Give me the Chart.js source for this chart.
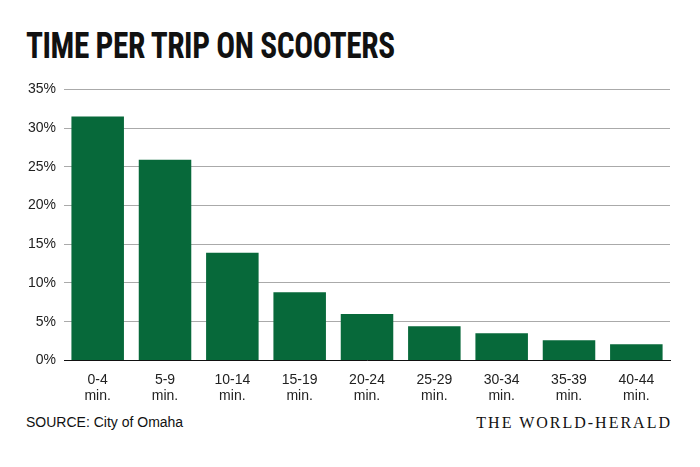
<!DOCTYPE html>
<html>
<head>
<meta charset="utf-8">
<script src="https://cdn.jsdelivr.net/npm/chart.js@4"></script>
<style>
  body { margin: 0; width: 700px; height: 467px; background: #fff; position: relative; overflow: hidden; }
  #title { position: absolute; left: 26px; top: 25px; font-family: "Roboto Condensed", "Liberation Sans Narrow", "DejaVu Sans Condensed", sans-serif; font-weight: bold; font-size: 36px; letter-spacing: -0.5px; color: #111; transform: scaleX(0.87); transform-origin: left; }
  #wrap { position: absolute; left: 0; top: 73px; width: 700px; height: 335px; }
  #source { position: absolute; left: 26px; top: 414px; font-family: "Liberation Sans", Arial, sans-serif; font-size: 14px; color: #111; }
  #brand { position: absolute; right: 28px; top: 414px; font-family: "Liberation Serif", "DejaVu Serif", serif; font-size: 16px; letter-spacing: 2px; color: #111; }
</style>
</head>
<body>
<div id="title">TIME PER TRIP ON SCOOTERS</div>
<div id="wrap"><canvas id="chart"></canvas></div>
<div id="source">SOURCE: City of Omaha</div>
<div id="brand">THE WORLD-HERALD</div>
<script>
const categories = [['0-4', 'min.'], ['5-9', 'min.'], ['10-14', 'min.'], ['15-19', 'min.'], ['20-24', 'min.'], ['25-29', 'min.'], ['30-34', 'min.'], ['35-39', 'min.'], ['40-44', 'min.']];
const shares = [31.5, 25.9, 13.9, 8.8, 6.0, 4.4, 3.5, 2.6, 2.1];
const yTicks = [0, 5, 10, 15, 20, 25, 30, 35];

document.addEventListener('DOMContentLoaded', () => {
    const ctx = document.getElementById('chart').getContext('2d');
    new Chart(ctx, {
        type: 'bar',
        data: {
            labels: categories,
            datasets: [{
                data: shares,
                backgroundColor: '#07693a',
                categoryPercentage: 1,
                barPercentage: 0.78
            }]
        },
        options: {
            responsive: true,
            maintainAspectRatio: false,
            animation: false,
            layout: { padding: { left: 20, right: 30, top: 4, bottom: 0 } },
            scales: {
                x: {
                    grid: { display: false },
                    border: { color: '#111', width: 1 },
                    ticks: { color: '#222', font: { family: 'Liberation Sans', size: 14 }, maxRotation: 0, autoSkip: false }
                },
                y: {
                    min: 0,
                    max: 35,
                    afterBuildTicks: axis => { axis.ticks = yTicks.map(v => ({ value: v })); },
                    grid: { color: '#aaa', drawTicks: false },
                    border: { display: false },
                    ticks: { color: '#222', padding: 8, font: { family: 'Liberation Sans', size: 14 }, callback: v => v + '%' }
                }
            },
            plugins: { legend: { display: false }, tooltip: { enabled: false } }
        }
    });
});
</script>
</body>
</html>
